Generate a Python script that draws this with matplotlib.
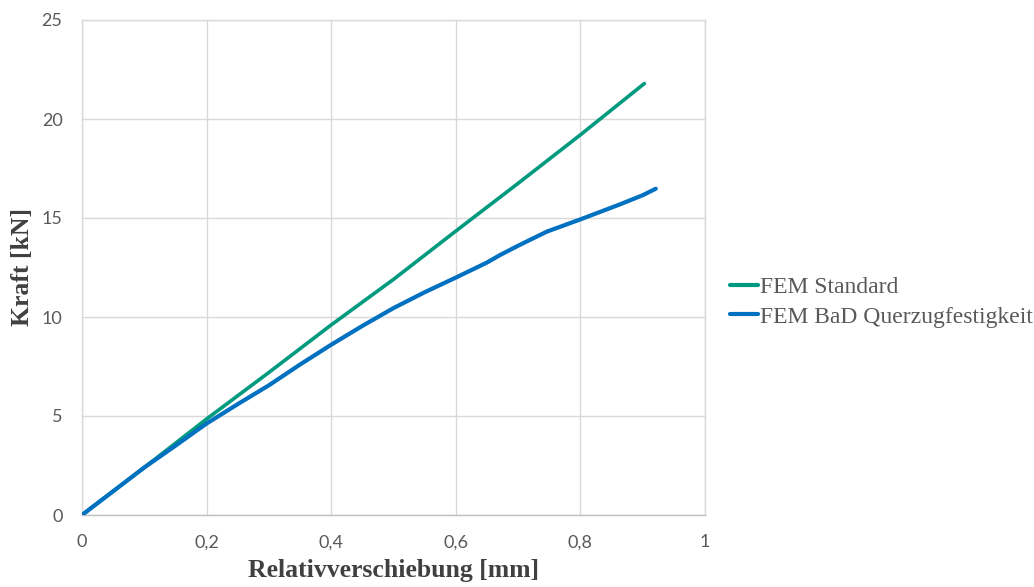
import matplotlib
matplotlib.use("Agg")
import matplotlib.pyplot as plt

# Force-displacement data (relative displacement in mm, force in kN)
x_standard = [0.0, 0.1, 0.2, 0.3, 0.4, 0.5, 0.6, 0.7, 0.8, 0.9026]
y_standard = [0.0, 2.4, 4.85, 7.2, 9.6, 11.9, 14.34, 16.75, 19.2, 21.79]

x_bad = [0.0, 0.05, 0.1, 0.15, 0.2, 0.25, 0.3, 0.35, 0.4, 0.45, 0.5, 0.55,
         0.6, 0.65, 0.671, 0.7, 0.746, 0.8, 0.8636, 0.9, 0.921]
y_bad = [0.0, 1.2, 2.4, 3.5, 4.62, 5.6, 6.55, 7.6, 8.6, 9.55, 10.45, 11.25,
         11.99, 12.75, 13.13, 13.6, 14.31, 14.93, 15.69, 16.15, 16.48]

series_names = ["FEM Standard", "FEM BaD Querzugfestigkeit"]
series_colors = ["#009a7e", "#0070c0"]

x_ticks = [0, 0.2, 0.4, 0.6, 0.8, 1.0]
x_tick_labels = ["0", "0,2", "0,4", "0,6", "0,8", "1"]
y_ticks = [0, 5, 10, 15, 20, 25]

fig = plt.figure(figsize=(10.34, 5.87), dpi=100)
ax = fig.add_axes([82 / 1034, 1 - 515 / 587, (705 - 82) / 1034, (515 - 20) / 587])

ax.plot(x_standard, y_standard, color=series_colors[0], lw=2.6,
        solid_capstyle="round", label=series_names[0], zorder=3)
ax.plot(x_bad, y_bad, color=series_colors[1], lw=3.0,
        solid_capstyle="round", label=series_names[1], zorder=4)

ax.set_xlim(0, 1)
ax.set_ylim(0, 25)
ax.set_xticks(x_ticks)
ax.set_xticklabels(x_tick_labels)
ax.set_yticks(y_ticks)

grid_color = "#d9d9d9"
ax.grid(True, color=grid_color, lw=1.0)
ax.set_axisbelow(True)
for side in ["top", "right", "left"]:
    ax.spines[side].set_color(grid_color)
    ax.spines[side].set_linewidth(1.0)
ax.spines["bottom"].set_color("#bfbfbf")
ax.spines["bottom"].set_linewidth(1.0)

ax.tick_params(length=0, pad=14, labelsize=13, labelcolor="#595959")
for lab in ax.get_xticklabels() + ax.get_yticklabels():
    lab.set_family("Lato")

label_font = dict(family="Liberation Serif", weight="bold", size=18.5, color="#404040")
ax.set_xlabel("Relativverschiebung [mm]", labelpad=6, **label_font)
ax.set_ylabel("Kraft [kN]", **label_font)
ax.yaxis.set_label_coords((23 - 82) / 623, 0.5)
ax.yaxis.label.set_va("center")

leg = ax.legend(loc="center left", bbox_to_anchor=((730 - 82) / 623, (515 - 302) / 495),
                frameon=False, prop=dict(family="Liberation Serif", size=17),
                handlelength=1.2, handletextpad=0.08, labelspacing=0.35,
                borderaxespad=0.0, borderpad=0.0)
for t in leg.get_texts():
    t.set_color("#595959")
for h in leg.get_lines():
    h.set_linewidth(3.0)

fig.savefig("out.png", dpi=100)
